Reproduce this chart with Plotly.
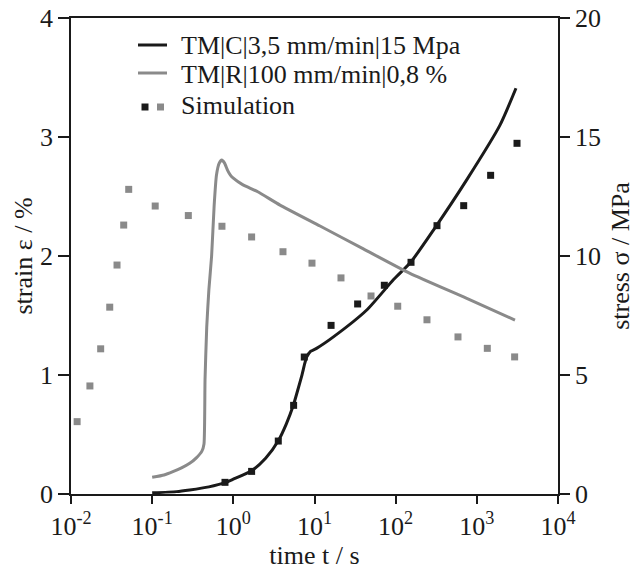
import plotly.graph_objects as go

# ---- data ----
# creep test TM|C (strain in %, left axis)
creep_t = [0.1, 0.2, 0.29, 0.5, 0.79, 1.0, 1.68, 2.5, 3.58, 4.5, 5.5, 6.2, 6.95, 7.6, 8.0, 9.0,
           10.6, 17.1, 44, 93.6, 154, 292, 750, 1928, 3035]
creep_strain = [0.01, 0.02, 0.034, 0.06, 0.095, 0.125, 0.196, 0.30, 0.448, 0.59, 0.748, 0.87, 0.99,
                1.10, 1.15, 1.20, 1.224, 1.32, 1.546, 1.80, 1.95, 2.218, 2.64, 3.10, 3.41]

# relaxation test TM|R (stress in MPa, right axis)
relax_t = [0.1, 0.14, 0.18, 0.23, 0.29, 0.35, 0.41, 0.435, 0.448, 0.47, 0.50, 0.54, 0.58, 0.62,
           0.67, 0.72, 0.78, 0.85, 0.92, 1.0, 1.3, 2.0, 3.76, 11.7, 40, 150, 740, 2950]
relax_stress = [0.70, 0.80, 0.94, 1.10, 1.29, 1.52, 1.80, 2.1, 4.8, 7.0, 8.6, 10.0, 12.1, 13.4,
                13.9, 14.03, 13.9, 13.6, 13.4, 13.27, 13.0, 12.7, 12.14, 11.26, 10.3, 9.27, 8.23, 7.31]

# simulation, creep (strain %)
sim_creep_t = [0.789, 1.68, 3.58, 5.53, 7.48, 16.0, 34.0, 72.5, 154.6, 323, 689, 1479, 3126]
sim_creep_strain = [0.098, 0.19, 0.445, 0.745, 1.151, 1.417, 1.597, 1.754, 1.947, 2.255, 2.423, 2.678, 2.947]

# simulation, relaxation (stress MPa)
sim_relax_t = [0.0119, 0.0171, 0.0232, 0.030, 0.0369, 0.0446, 0.0514, 0.109, 0.279, 0.724, 1.68,
               4.09, 9.31, 21.2, 49.7, 106, 243, 586, 1346, 2923]
sim_relax_stress = [3.04, 4.54, 6.10, 7.85, 9.62, 11.3, 12.8, 12.1, 11.7, 11.25, 10.8, 10.18, 9.7,
                    9.08, 8.32, 7.89, 7.32, 6.6, 6.12, 5.76]

x_tickvals = [0.01, 0.1, 1, 10, 100, 1000, 10000]
x_ticktext = ["10<sup>-2</sup>", "10<sup>-1</sup>", "10<sup>0</sup>", "10<sup>1</sup>",
              "10<sup>2</sup>", "10<sup>3</sup>", "10<sup>4</sup>"]
y1_ticks = [0, 1, 2, 3, 4]
y2_ticks = [0, 5, 10, 15, 20]

legend_labels = ["TM|C|3,5 mm/min|15 Mpa", "TM|R|100 mm/min|0,8 %", "Simulation"]

# ---- styling ----
FONT = "Liberation Serif"
FS = 26
BLACK = "#1a1a1a"
GRAY = "#8a8a8a"
W, H = 635, 570
L, R, T, B = 71, 77, 18, 76
PW, PH = W - L - R, H - T - B


def px(sx):
    return (sx - L) / PW


def py(sy):
    return (H - B - sy) / PH


fig = go.Figure()
fig.add_trace(go.Scatter(x=creep_t, y=creep_strain, mode="lines",
                         line=dict(color=BLACK, width=3, shape="spline", smoothing=0.6),
                         showlegend=False))
fig.add_trace(go.Scatter(x=relax_t, y=relax_stress, mode="lines", yaxis="y2",
                         line=dict(color=GRAY, width=3, shape="spline", smoothing=0.5),
                         showlegend=False))
fig.add_trace(go.Scatter(x=sim_creep_t, y=sim_creep_strain, mode="markers",
                         marker=dict(symbol="square", size=7, color=BLACK),
                         showlegend=False))
fig.add_trace(go.Scatter(x=sim_relax_t, y=sim_relax_stress, mode="markers", yaxis="y2",
                         marker=dict(symbol="square", size=7, color=GRAY),
                         showlegend=False))

# manual legend
shapes = [
    dict(type="line", xref="paper", yref="paper", x0=px(138), x1=px(167), y0=py(45), y1=py(45),
         line=dict(color=BLACK, width=3)),
    dict(type="line", xref="paper", yref="paper", x0=px(138), x1=px(167), y0=py(73), y1=py(73),
         line=dict(color=GRAY, width=3)),
    dict(type="rect", xref="paper", yref="paper", x0=px(141.5), x1=px(148.5), y0=py(103.5),
         y1=py(110.5), fillcolor=BLACK, line=dict(width=0)),
    dict(type="rect", xref="paper", yref="paper", x0=px(157), x1=px(164), y0=py(103.5),
         y1=py(110.5), fillcolor=GRAY, line=dict(width=0)),
]
annotations = []
for lab, yy in zip(legend_labels, [45, 74, 105]):
    annotations.append(dict(text=lab, xref="paper", yref="paper", x=px(179), y=py(yy),
                            xanchor="left", yanchor="middle", showarrow=False,
                            font=dict(family=FONT, size=FS, color=BLACK)))

axis_common = dict(showline=True, linecolor=BLACK, linewidth=1.5, ticks="outside",
                   tickcolor=BLACK, tickwidth=1.5, showgrid=False, zeroline=False,
                   automargin=False, ticklabeloverflow="allow",
                   tickfont=dict(family=FONT, size=FS, color=BLACK))

fig.update_layout(
    width=W, height=H,
    margin=dict(l=L, r=R, t=T, b=B),
    paper_bgcolor="white", plot_bgcolor="white",
    font=dict(family=FONT, size=FS, color=BLACK),
    xaxis=dict(type="log", range=[-2, 4], tickvals=x_tickvals, ticktext=x_ticktext,
               ticklen=8, mirror=True,
               title=dict(text="time t / s", font=dict(family=FONT, size=FS), standoff=2),
               **axis_common),
    yaxis=dict(range=[0, 4], tickvals=y1_ticks, ticklen=11,
               title=dict(text="strain ε / %", font=dict(family=FONT, size=FS), standoff=0),
               **axis_common),
    yaxis2=dict(range=[0, 20], tickvals=y2_ticks, ticklen=10, overlaying="y", side="right",
                title=dict(text="stress σ / MPa", font=dict(family=FONT, size=FS), standoff=16),
                **axis_common),
    shapes=shapes,
    annotations=annotations,
)

# remove the default 8px body margin so the figure fills the window exactly
fig.write_html("out.html", config={"displayModeBar": False},
               post_script="document.body.style.margin='0';")
